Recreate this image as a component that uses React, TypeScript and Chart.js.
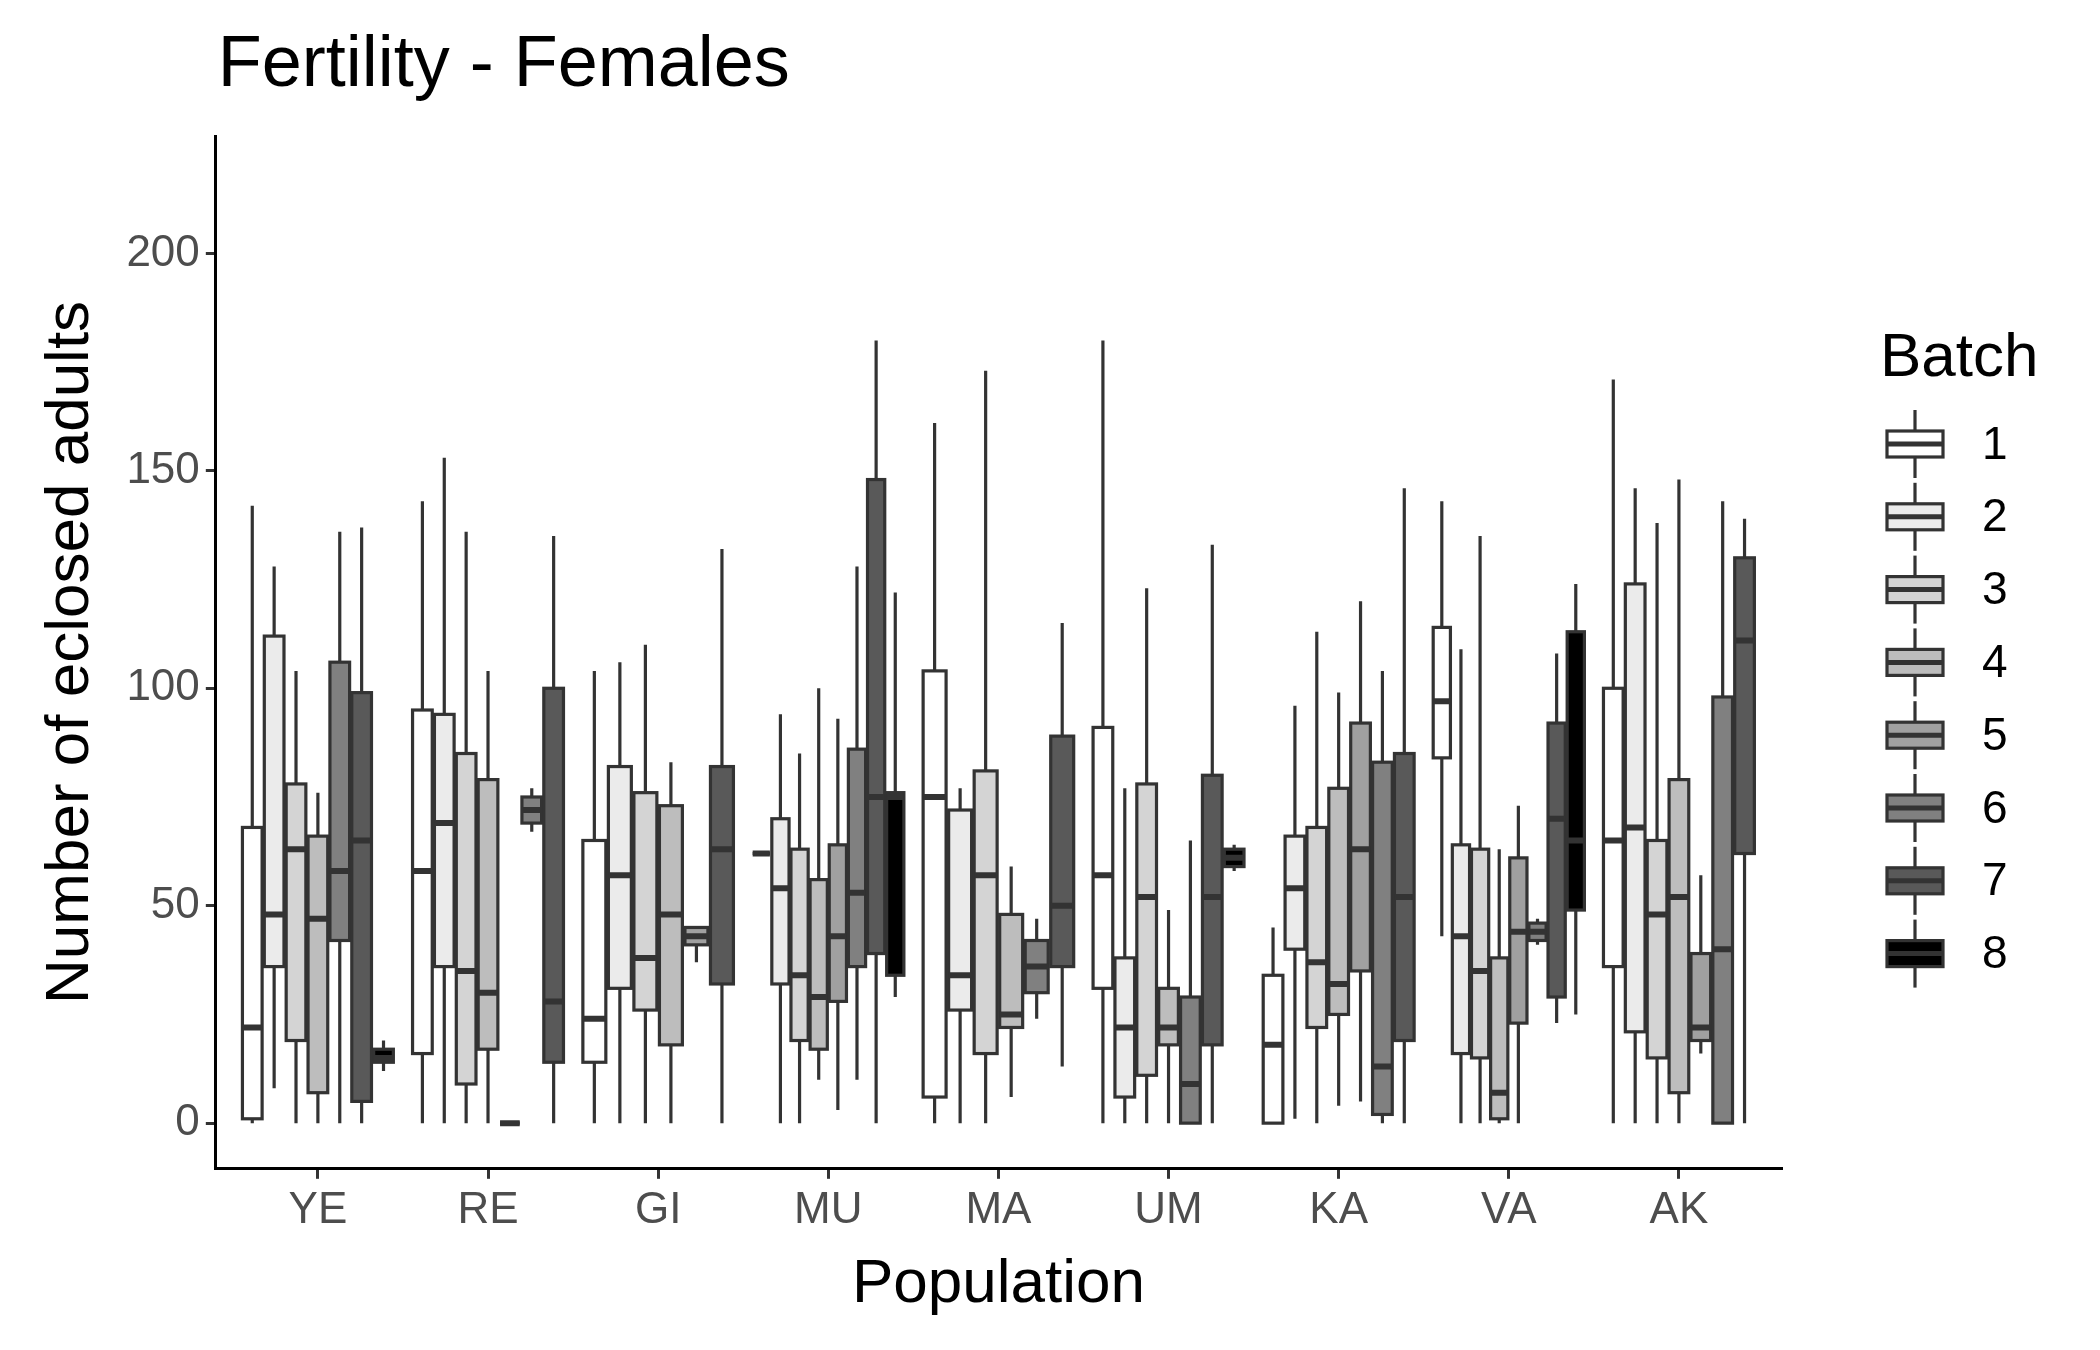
import React, { useEffect, useRef } from 'react';
import { Chart, registerables } from 'chart.js';

Chart.register(...registerables);

const populations = ['YE', 'RE', 'GI', 'MU', 'MA', 'UM', 'KA', 'VA', 'AK'];
const batchLabels = ['1', '2', '3', '4', '5', '6', '7', '8'];
const batchColors = ['#FFFFFF', '#EBEBEB', '#D4D4D4', '#BDBDBD', '#A0A0A0', '#808080', '#595959', '#000000'];

// [batch, min, q1, median, q3, max]
const YE = [[1, 0, 1, 22, 68, 142], [2, 8, 36, 48, 112, 128], [3, 0, 19, 63, 78, 104], [4, 0, 7, 47, 66, 76], [6, 0, 42, 58, 106, 136], [7, 0, 5, 65, 99, 137], [8, 12, 14, 15, 17, 19]];
const RE = [[1, 0, 16, 58, 95, 143], [2, 0, 36, 69, 94, 153], [3, 0, 9, 35, 85, 136], [4, 0, 17, 30, 79, 104], [5, 0, 0, 0, 0, 0], [6, 67, 69, 72, 75, 77], [7, 0, 14, 28, 100, 135]];
const GI = [[1, 0, 14, 24, 65, 104], [2, 0, 31, 57, 82, 106], [3, 0, 26, 38, 76, 110], [4, 0, 18, 48, 73, 83], [5, 37, 41, 43, 45, 45], [7, 0, 32, 63, 82, 132]];
const MU = [[1, 62, 62, 62, 62, 62], [2, 0, 32, 54, 70, 94], [3, 0, 19, 34, 63, 85], [4, 10, 17, 29, 56, 100], [5, 3, 28, 43, 64, 93], [6, 10, 36, 53, 86, 128], [7, 0, 39, 75, 148, 180], [8, 29, 34, 75, 76, 122]];
const MA = [[1, 0, 6, 75, 104, 161], [2, 0, 26, 34, 72, 77], [3, 0, 16, 57, 81, 173], [4, 6, 22, 25, 48, 59], [6, 24, 30, 36, 42, 47], [7, 13, 36, 50, 89, 115]];
const UM = [[1, 0, 31, 57, 91, 180], [2, 0, 6, 22, 38, 77], [3, 0, 11, 52, 78, 123], [4, 0, 18, 22, 31, 49], [6, 0, 0, 9, 29, 65], [7, 0, 18, 52, 80, 133], [8, 58, 59, 61, 63, 64]];
const KA = [[1, 0, 0, 18, 34, 45], [2, 1, 40, 54, 66, 96], [3, 0, 22, 37, 68, 113], [4, 4, 25, 32, 77, 99], [5, 5, 35, 63, 92, 120], [6, 0, 2, 13, 83, 104], [7, 0, 19, 52, 85, 146]];
const VA = [[1, 43, 84, 97, 114, 143], [2, 0, 16, 43, 64, 109], [3, 0, 15, 35, 63, 135], [4, 0, 1, 7, 38, 63], [5, 0, 23, 44, 61, 73], [6, 41, 42, 44, 46, 47], [7, 23, 29, 70, 92, 108], [8, 25, 49, 65, 113, 124]];
const AK = [[1, 0, 36, 65, 100, 171], [2, 0, 21, 68, 124, 146], [3, 0, 15, 48, 65, 138], [4, 0, 7, 52, 79, 148], [5, 16, 19, 22, 39, 57], [6, 0, 0, 40, 98, 143], [7, 0, 62, 111, 130, 139]];
const groups = [YE, RE, GI, MU, MA, UM, KA, VA, AK];

const yTicks = [0, 50, 100, 150, 200];
const FONT = '"Liberation Sans", Arial, sans-serif';
const LINE = '#333333';

const boxPlugin = {
  id: 'boxes',
  afterDatasetsDraw(chart: any) {
    const { ctx, scales: { x, y }, chartArea } = chart;
    ctx.save();
    ctx.beginPath();
    ctx.rect(chartArea.left, chartArea.top, chartArea.width, chartArea.height);
    ctx.clip();
    groups.forEach((rows, gi) => {
      const n = rows.length;
      const slot = 0.9 / n;
      rows.forEach((r, k) => {
        const [b, mn, q1, md, q3, mx] = r;
        const c = gi + 1 - 0.45 + slot * (k + 0.5);
        const xc = x.getPixelForValue(c);
        const xl = x.getPixelForValue(c - slot * 0.45);
        const xr = x.getPixelForValue(c + slot * 0.45);
        ctx.strokeStyle = LINE;
        ctx.lineWidth = 3.2;
        ctx.beginPath();
        ctx.moveTo(xc, y.getPixelForValue(mx));
        ctx.lineTo(xc, y.getPixelForValue(q3));
        ctx.moveTo(xc, y.getPixelForValue(q1));
        ctx.lineTo(xc, y.getPixelForValue(mn));
        ctx.stroke();
        const yt = y.getPixelForValue(q3);
        const yb = y.getPixelForValue(q1);
        ctx.fillStyle = batchColors[b - 1];
        ctx.fillRect(xl, yt, xr - xl, yb - yt);
        ctx.strokeRect(xl, yt, xr - xl, yb - yt);
        ctx.lineWidth = 6;
        ctx.beginPath();
        ctx.moveTo(xl, y.getPixelForValue(md));
        ctx.lineTo(xr, y.getPixelForValue(md));
        ctx.stroke();
      });
    });
    ctx.restore();
  },
  afterDraw(chart: any) {
    const { ctx, chartArea } = chart;
    ctx.save();
    ctx.fillStyle = '#000';
    ctx.textBaseline = 'alphabetic';
    ctx.font = `72px ${FONT}`;
    ctx.fillText('Fertility - Females', chartArea.left + 2, 86);
    // legend
    ctx.font = `62px ${FONT}`;
    ctx.fillText('Batch', 1880, 376);
    ctx.font = `46px ${FONT}`;
    batchLabels.forEach((lab, i) => {
      const cy = 444 + 72.8 * i;
      const cx = 1915;
      const w = 56;
      const h = 26;
      ctx.strokeStyle = LINE;
      ctx.lineWidth = 3.2;
      ctx.beginPath();
      ctx.moveTo(cx, cy - 34);
      ctx.lineTo(cx, cy + 34);
      ctx.stroke();
      ctx.fillStyle = batchColors[i];
      ctx.fillRect(cx - w / 2, cy - h / 2, w, h);
      ctx.strokeRect(cx - w / 2, cy - h / 2, w, h);
      ctx.lineWidth = 5;
      ctx.beginPath();
      ctx.moveTo(cx - w / 2, cy);
      ctx.lineTo(cx + w / 2, cy);
      ctx.stroke();
      ctx.fillStyle = '#000';
      ctx.textBaseline = 'middle';
      ctx.fillText(lab, 1982, cy + 2);
    });
    ctx.restore();
  },
};

const App: React.FC = () => {
  const canvasRef = useRef<HTMLCanvasElement>(null);

  useEffect(() => {
    document.body.style.margin = '0';
    if (!canvasRef.current) return;
    const chart = new Chart(canvasRef.current, {
      type: 'scatter',
      data: { datasets: [{ data: [], pointRadius: 0 }] },
      options: {
        animation: false,
        responsive: false,
        devicePixelRatio: 1,
        layout: { padding: { top: 136, right: 319, bottom: 28, left: 34 } },
        plugins: { legend: { display: false }, tooltip: { enabled: false } },
        scales: {
          x: {
            type: 'linear',
            min: 0.4,
            max: 9.6,
            afterBuildTicks: (axis: any) => {
              axis.ticks = populations.map((_, i) => ({ value: i + 1 }));
            },
            ticks: {
              autoSkip: false,
              maxRotation: 0,
              color: '#4D4D4D',
              font: { family: FONT, size: 44 },
              padding: 6,
              callback: (v: any) => populations[Number(v) - 1] ?? '',
            },
            grid: { drawOnChartArea: false, drawTicks: true, tickLength: 10, color: LINE, lineWidth: 3 },
            border: { display: true, color: '#000', width: 3 },
            title: { display: true, text: 'Population', color: '#000', font: { family: FONT, size: 62 }, padding: { top: 4, bottom: 0 } },
          },
          y: {
            min: -10.5,
            max: 227,
            afterBuildTicks: (axis: any) => {
              axis.ticks = yTicks.map((v) => ({ value: v }));
            },
            ticks: { color: '#4D4D4D', font: { family: FONT, size: 44 }, padding: 6 },
            grid: { drawOnChartArea: false, drawTicks: true, tickLength: 10, color: LINE, lineWidth: 3 },
            border: { display: true, color: '#000', width: 3 },
            title: { display: true, text: 'Number of eclosed adults', color: '#000', font: { family: FONT, size: 62 }, padding: { top: 0, bottom: 12 } },
          },
        },
      },
      plugins: [boxPlugin],
    });
    return () => chart.destroy();
  }, []);

  return <canvas ref={canvasRef} width={2100} height={1350} style={{ display: 'block' }} />;
};

export default App;
